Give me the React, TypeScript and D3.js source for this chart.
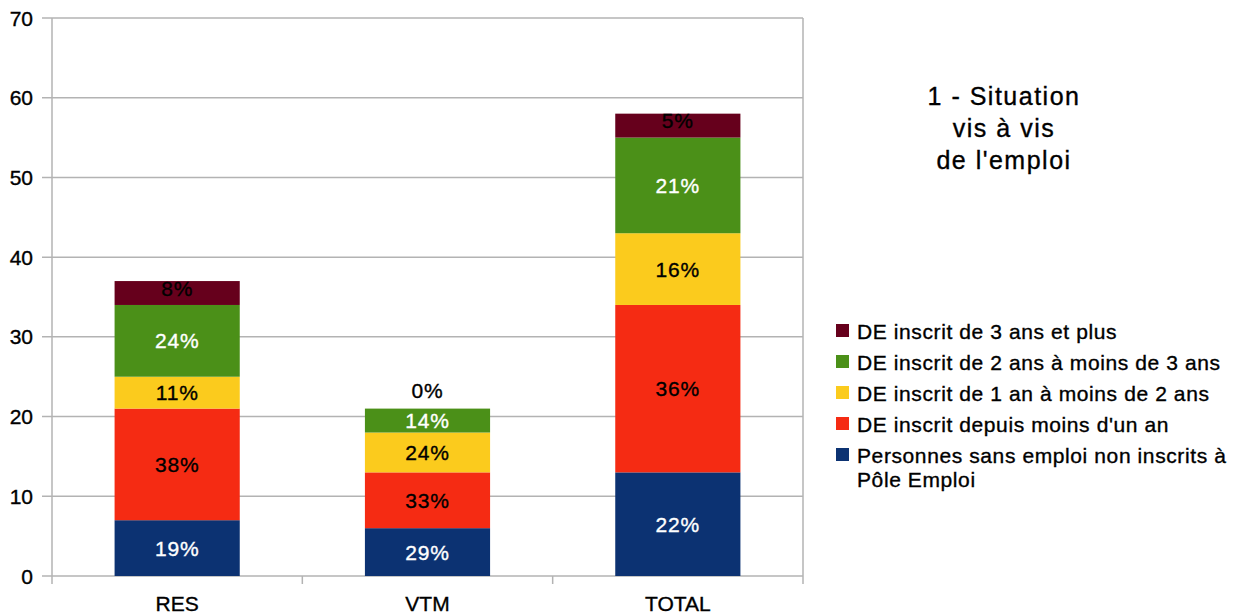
import React from 'react';
import * as d3 from 'd3';

// categories and series (bottom to top of each stack)
const categories = ['RES', 'VTM', 'TOTAL'];
const sansEmploi = [7, 6, 13];
const moinsUnAn = [14, 7, 21];
const unADeuxAns = [4, 5, 9];
const deuxATroisAns = [9, 3, 12];
const troisAnsPlus = [3, 0, 3];
const yTicks = [0, 10, 20, 30, 40, 50, 60, 70];
const titleLines = ['1 - Situation', 'vis à vis', "de l'emploi"];

const series = [
  { key: 'sans', name: ['Personnes sans emploi non inscrits à', 'Pôle Emploi'], values: sansEmploi, color: '#0c3272', text: '#ffffff' },
  { key: 'moins1', name: ["DE inscrit depuis moins d'un an"], values: moinsUnAn, color: '#f52b13', text: '#000000' },
  { key: 'un2', name: ['DE inscrit de 1 an à moins de 2 ans'], values: unADeuxAns, color: '#fbcb1d', text: '#000000' },
  { key: 'deux3', name: ['DE inscrit de 2 ans à moins de 3 ans'], values: deuxATroisAns, color: '#4b9018', text: '#ffffff' },
  { key: 'trois', name: ['DE inscrit de 3 ans et plus'], values: troisAnsPlus, color: '#66001c', text: '#000000' },
];

const W = 1241;
const H = 616;
const left = 52, right = 803, top = 18, bottom = 576;
const font = '"Liberation Sans", Arial, sans-serif';

// slightly heavier text, like the reference rendering
const heavy = (c: string) => ({ fill: c, stroke: c, strokeWidth: 0.35 });

export default function App() {
  const rows = categories.map((c, i) => {
    const r: any = { cat: c };
    series.forEach(s => { r[s.key] = s.values[i]; });
    return r;
  });
  const stacked = d3.stack().keys(series.map(s => s.key))(rows);
  const totals = categories.map((_, i) => d3.sum(series, s => s.values[i]));

  const x = d3.scaleBand().domain(categories).range([left, right]).paddingInner(0.5).paddingOuter(0.25);
  const y = d3.scaleLinear().domain([0, 70]).range([bottom, top]);
  const step = x.step();
  const bounds = d3.range(categories.length + 1).map(i => left + i * step);

  // legend drawn top series first
  const legendItems = series.slice().reverse();
  let ly = 339;
  const legendRows = legendItems.map(s => {
    const row = { s, y: ly };
    ly += 31 + (s.name.length - 1) * 24;
    return row;
  });

  return (
    <svg width={W} height={H} style={{ position: 'absolute', left: 0, top: 0, background: '#fff' }} fontFamily={font}>
      {/* gridlines */}
      {yTicks.map(t => (
        <g key={t}>
          <line x1={left - 10} x2={right} y1={y(t)} y2={y(t)} stroke="#b3b3b3" strokeWidth={1.5} />
          <text x={33} y={y(t)} dy="0.36em" textAnchor="end" fontSize={21} {...heavy('#000')}>{t}</text>
        </g>
      ))}
      {/* axes */}
      <line x1={left} x2={left} y1={top} y2={bottom + 8} stroke="#b3b3b3" strokeWidth={1.5} />
      <line x1={right} x2={right} y1={top} y2={bottom + 8} stroke="#b3b3b3" strokeWidth={1.5} />
      {bounds.slice(1, -1).map((b, i) => (
        <line key={i} x1={b} x2={b} y1={bottom} y2={bottom + 8} stroke="#b3b3b3" strokeWidth={1.5} />
      ))}
      {/* bars */}
      {stacked.map((layer, li) => (
        <g key={layer.key} fill={series[li].color}>
          {layer.map((d, i) => (
            <rect key={i} x={x(categories[i])} width={x.bandwidth()} y={y(d[1])} height={Math.max(0, y(d[0]) - y(d[1]))} />
          ))}
        </g>
      ))}
      {/* value labels */}
      {stacked.map((layer, li) => (
        <g key={'l' + layer.key}>
          {layer.map((d, i) => {
            const v = d[1] - d[0];
            const pct = Math.round((v / totals[i]) * 100);
            const cy = v === 0 ? y(d[1]) - 18 : (y(d[0]) + y(d[1])) / 2 - (li === series.length - 1 ? 5 : 0);
            return (
              <text key={i} x={(x(categories[i]) as number) + x.bandwidth() / 2} y={cy} dy="0.36em"
                textAnchor="middle" fontSize={21} letterSpacing={0.8}
                {...heavy(v === 0 ? '#000' : series[li].text)}>{pct}%</text>
            );
          })}
        </g>
      ))}
      {/* x labels */}
      {categories.map(c => (
        <text key={c} x={(x(c) as number) + x.bandwidth() / 2} y={611} textAnchor="middle" fontSize={21} {...heavy('#000')}>{c}</text>
      ))}
      {/* title */}
      {titleLines.map((t, i) => (
        <text key={i} x={1004} y={105 + i * 32} textAnchor="middle" fontSize={25} letterSpacing={1.5} {...heavy('#000')}>{t}</text>
      ))}
      {/* legend */}
      {legendRows.map(({ s, y: by }) => (
        <g key={s.key}>
          <rect x={836} y={by - 15} width={13} height={13} fill={s.color} />
          {s.name.map((n, j) => (
            <text key={j} x={857} y={by + j * 24} fontSize={21} letterSpacing={0.6} {...heavy('#000')}>{n}</text>
          ))}
        </g>
      ))}
    </svg>
  );
}
